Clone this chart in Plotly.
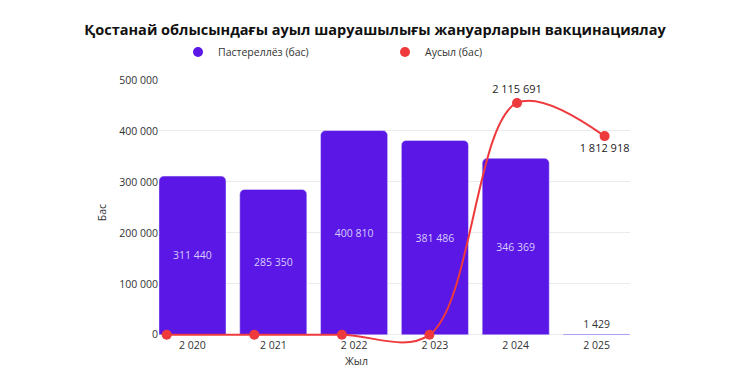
import plotly.graph_objects as go

years = ["2 020", "2 021", "2 022", "2 023", "2 024", "2 025"]
pasterellez = [311440, 285350, 400810, 381486, 346369, 1429]
ausyl = [0, 0, 0, 0, 2115691, 1812918]
y_ticks = [0, 100000, 200000, 300000, 400000, 500000]

title = "Қостанай облысындағы ауыл шаруашылығы жануарларын вакцинациялау"
name_bar = "Пастереллёз (бас)"
name_line = "Аусыл (бас)"

BAR = "#5a17e6"
RED = "#ee3a3c"
FONT = "Open Sans"

# page body has an 8px margin: figure is drawn 8px in from the window edge
W, H = 742, 367

line_text = [f"{v:,}".replace(",", " ") if v else "" for v in ausyl]
line_pos = ["top center" if i < 5 else "bottom center" for i in range(len(ausyl))]

fig = go.Figure()
fig.add_trace(go.Bar(
    x=years, y=pasterellez, marker_color=BAR, showlegend=False,
    texttemplate="%{y:,}", textposition="auto",
    insidetextanchor="middle",
    insidetextfont=dict(color="#d8ccff", size=10.5, family=FONT),
    outsidetextfont=dict(color="#333333", size=10.5, family=FONT),
    cliponaxis=False, xaxis="x", yaxis="y",
))
fig.add_trace(go.Scatter(
    x=list(range(len(years))), y=ausyl, mode="lines+markers+text",
    line=dict(color=RED, width=2, shape="spline", smoothing=1.0),
    marker=dict(color=RED, size=10),
    text=line_text, textposition=line_pos,
    textfont=dict(color="#222222", size=11, family=FONT),
    showlegend=False, cliponaxis=False, xaxis="x2", yaxis="y2",
))
# legend entries (circle symbols)
fig.add_trace(go.Scatter(x=[None], y=[None], mode="markers", name=name_bar,
                         marker=dict(color=BAR, size=10)))
fig.add_trace(go.Scatter(x=[None], y=[None], mode="markers", name=name_line,
                         marker=dict(color=RED, size=10)))

ymin, ymax = -20000, 500000
scale = 2325000 / ymax

fig.update_layout(
    width=W, height=H,
    margin=dict(l=151, r=120, t=72, b=30),
    paper_bgcolor="white", plot_bgcolor="white",
    separators=". ",
    font=dict(family=FONT, color="#333333", size=10.5),
    title=dict(text=f"<b>{title}</b>", x=(375 - 8) / W, xanchor="center",
               y=1 - 22 / H, yanchor="middle",
               font=dict(size=14.5, color="#111111", family=FONT)),
    legend=dict(orientation="h", xref="container", x=170 / W, xanchor="left",
                yref="container", y=1 - 44 / H, yanchor="middle",
                entrywidth=162, entrywidthmode="pixels",
                font=dict(size=10.5, color="#333333"), itemwidth=30),
    bargap=0.17, barcornerradius=5,
    xaxis=dict(type="category", range=[-0.414, 5.414], showgrid=False, zeroline=False,
               showline=False, ticks="", tickfont=dict(size=10.5, color="#333333"),
               ticklabelstandoff=-8, automargin=False),
    xaxis2=dict(overlaying="x", range=[-0.088, 5.29], visible=False),
    yaxis=dict(range=[ymin, ymax], tickvals=y_ticks, tickformat=",",
               showgrid=True, gridcolor="#ebebeb", gridwidth=1, zeroline=False,
               tickfont=dict(size=10.5, color="#333333"), automargin=False,
               title=dict(text="Бас", font=dict(size=10.5, color="#333333"), standoff=10)),
    yaxis2=dict(overlaying="y", range=[ymin * scale, ymax * scale], visible=False),
    annotations=[dict(text="Жыл", xref="paper", yref="paper", x=(356 - 159) / 471, y=-0.06,
                      xanchor="center", yanchor="middle", showarrow=False,
                      font=dict(size=10.5, color="#333333"))],
)

fig.write_html("out.html")
